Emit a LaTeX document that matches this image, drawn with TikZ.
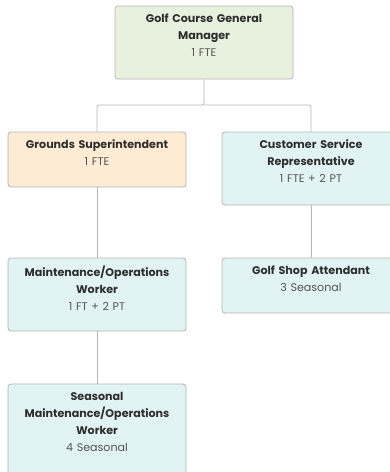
\documentclass[tikz,border=0pt]{standalone}
\usepackage{fontspec}
\setmainfont{Poppins}
\definecolor{edge}{HTML}{B4B4B4}
\definecolor{ink}{HTML}{2E2E2E}
\definecolor{subink}{HTML}{555555}
\definecolor{greenfill}{HTML}{E8F1DD}
\definecolor{orangefill}{HTML}{FDEBD3}
\definecolor{bluefill}{HTML}{E1F3F3}
\begin{document}
\begin{tikzpicture}[x=1pt,y=-1pt,
  card/.style={draw=edge, line width=0.8pt, rounded corners=3pt, minimum width=178pt, inner sep=0pt},
  cardtext/.style={anchor=north, text width=174pt, align=center, inner sep=0pt, font=\fontsize{11.1}{17}\selectfont, text=ink},
  link/.style={draw=edge, line width=0.8pt, rounded corners=2pt},
  cnt/.style={text=subink}]
\useasboundingbox (0,0) rectangle (390,472);

% boxes
\node[card, fill=greenfill, minimum height=73pt] (gm) at (204,42.5) {};
\node[card, fill=orangefill, minimum height=55pt] (gs) at (97,159.5) {};
\node[card, fill=bluefill, minimum height=73pt] (csr) at (311,168.5) {};
\node[card, fill=bluefill, minimum height=73pt] (mow) at (97,294.5) {};
\node[card, fill=bluefill, minimum height=55pt] (gsa) at (311,285.5) {};
\node[card, fill=bluefill, minimum height=100pt] (smow) at (97,434) {};

% texts
\node[cardtext] (gmt) at ([yshift=-8pt]gm.north) {\textbf{Golf Course General\\Manager}\\{\color{subink}1 FTE}};
\node[cardtext] (gst) at ([yshift=-8pt]gs.north) {\textbf{Grounds Superintendent}\\{\color{subink}1 FTE}};
\node[cardtext] (csrt) at ([yshift=-8pt]csr.north) {\textbf{Customer Service\\Representative}\\{\color{subink}1 FTE + 2 PT}};
\node[cardtext] (mowt) at ([yshift=-8pt]mow.north) {\textbf{Maintenance/Operations\\Worker}\\{\color{subink}1 FT + 2 PT}};
\node[cardtext] (gsat) at ([yshift=-8pt]gsa.north) {\textbf{Golf Shop Attendant}\\{\color{subink}3 Seasonal}};
\node[cardtext] (smowt) at ([yshift=-8pt]smow.north) {\textbf{Seasonal\\Maintenance/Operations\\Worker}\\{\color{subink}4 Seasonal}};

% connectors
\coordinate (j) at (204,105);
\draw[link] (gm.south) -- (j) -| (gs.north);
\draw[link] (j) -| (csr.north);
\draw[link] (gs.south) -- (mow.north);
\draw[link] (csr.south) -- (gsa.north);
\draw[link] (mow.south) -- (smow.north);
\end{tikzpicture}
\end{document}
